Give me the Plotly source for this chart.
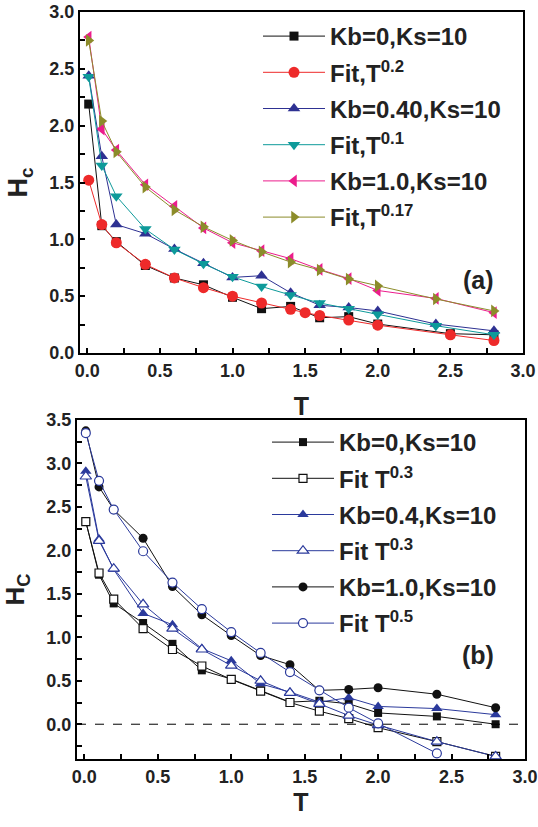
import plotly.graph_objects as go

# ---- panel (a): coercivity vs temperature, Ks = 10 ----
T_a = [0.01, 0.1, 0.2, 0.4, 0.6, 0.8, 1.0, 1.2, 1.4, 1.6, 1.8, 2.0, 2.4, 2.8]
T_a_kb0 = [0.01, 0.1, 0.2, 0.4, 0.6, 0.8, 1.0, 1.2, 1.4, 1.6, 1.8, 2.0, 2.5, 2.8]
T_a_fit02 = [0.01, 0.1, 0.2, 0.4, 0.6, 0.8, 1.0, 1.2, 1.4, 1.5, 1.6, 1.8, 2.0, 2.5, 2.8]

hc_a_kb0 = [2.19, 1.12, 0.98, 0.77, 0.66, 0.60, 0.49, 0.39, 0.41, 0.31, 0.32, 0.255, 0.17, 0.16]
hc_a_fit02 = [1.52, 1.13, 0.97, 0.78, 0.66, 0.575, 0.50, 0.44, 0.385, 0.355, 0.33, 0.29, 0.245, 0.16, 0.11]
hc_a_kb04 = [2.44, 1.73, 1.13, 1.05, 0.915, 0.79, 0.665, 0.68, 0.53, 0.42, 0.40, 0.37, 0.255, 0.195]
hc_a_fit01 = [2.43, 1.65, 1.38, 1.09, 0.91, 0.785, 0.67, 0.585, 0.51, 0.44, 0.39, 0.34, 0.24, 0.16]
hc_a_kb10 = [2.78, 1.97, 1.785, 1.48, 1.29, 1.10, 0.97, 0.90, 0.83, 0.735, 0.655, 0.55, 0.48, 0.355]
hc_a_fit017 = [2.75, 2.04, 1.77, 1.46, 1.26, 1.11, 0.99, 0.89, 0.80, 0.73, 0.65, 0.59, 0.475, 0.37]

# ---- panel (b) ----
T_b = [0.01, 0.1, 0.2, 0.4, 0.6, 0.8, 1.0, 1.2, 1.4, 1.6, 1.8, 2.0, 2.4, 2.8]
T_b_fit05 = [0.01, 0.1, 0.2, 0.4, 0.6, 0.8, 1.0, 1.2, 1.4, 1.6, 1.8, 2.0, 2.4]

hc_b_kb0 = [2.33, 1.72, 1.39, 1.165, 0.925, 0.62, 0.52, 0.39, 0.255, 0.27, 0.235, 0.13, 0.09, 0.0]
hc_b_fit03a = [2.33, 1.74, 1.44, 1.10, 0.86, 0.67, 0.515, 0.38, 0.25, 0.15, 0.065, -0.04, -0.2, -0.37]
hc_b_kb04 = [2.91, 2.13, 1.78, 1.275, 1.145, 0.87, 0.73, 0.465, 0.37, 0.255, 0.305, 0.205, 0.18, 0.11]
hc_b_fit03b = [2.85, 2.11, 1.79, 1.38, 1.10, 0.86, 0.675, 0.50, 0.36, 0.235, 0.10, -0.01, -0.2, -0.37]
hc_b_kb10 = [3.375, 2.73, 2.47, 2.14, 1.585, 1.26, 1.02, 0.79, 0.685, 0.39, 0.40, 0.42, 0.345, 0.19]
hc_b_fit05 = [3.35, 2.80, 2.47, 1.99, 1.63, 1.325, 1.06, 0.82, 0.60, 0.39, 0.19, 0.01, -0.335]

FONT = "Liberation Sans, Arial, sans-serif"
TEXT = "#222222"
W, H = 538, 827
ML, MR, MT, MB = 0, 8, 4, 4
PW, PH = W - ML - MR, H - MT - MB


def px(x):
    """pixel column -> paper fraction"""
    return (x - ML) / PW


def py(y):
    """pixel row (from top) -> paper fraction"""
    return 1 - (y - MT) / PH


fig = go.Figure()


def add(x, y, name, color, symbol, size, legend, axes, fill=None):
    xa, ya = axes
    fig.add_trace(go.Scatter(
        x=x, y=y, name=name, mode="lines+markers",
        line=dict(color=color, width=1),
        marker=dict(symbol=symbol, size=size,
                    color=fill if fill else color,
                    line=dict(color=color, width=1.2 if fill else 0)),
        xaxis=xa, yaxis=ya, legend=legend, legendgroup=legend + name + symbol + str(fill),
    ))


A = ("x", "y")
B = ("x2", "y2")

add(T_a_kb0, hc_a_kb0, "Kb=0,Ks=10", "#111111", "square", 9, "legend", A)
add(T_a_fit02, hc_a_fit02, "Fit,T<sup>0.2</sup>", "#EE2A2A", "circle", 11, "legend", A)
add(T_a, hc_a_kb04, "Kb=0.40,Ks=10", "#2E3192", "triangle-up", 11, "legend", A)
add(T_a, hc_a_fit01, "Fit,T<sup>0.1</sup>", "#0E9A9A", "triangle-down", 11, "legend", A)
add(T_a, hc_a_kb10, "Kb=1.0,Ks=10", "#EC1C8C", "triangle-left", 11, "legend", A)
add(T_a, hc_a_fit017, "Fit,T<sup>0.17</sup>", "#8C8C2A", "triangle-right", 11, "legend", A)

add(T_b, hc_b_kb0, "Kb=0,Ks=10", "#111111", "square", 8, "legend2", B)
add(T_b, hc_b_fit03a, "Fit T<sup>0.3</sup>", "#111111", "square", 8, "legend2", B, fill="white")
add(T_b, hc_b_kb04, "Kb=0.4,Ks=10", "#2B3A9C", "triangle-up", 10, "legend2", B)
add(T_b, hc_b_fit03b, "Fit T<sup>0.3</sup>", "#2B3A9C", "triangle-up", 10, "legend2", B, fill="white")
add(T_b, hc_b_kb10, "Kb=1.0,Ks=10", "#111111", "circle", 9, "legend2", B)
add(T_b_fit05, hc_b_fit05, "Fit T<sup>0.5</sup>", "#2B3A9C", "circle", 9, "legend2", B, fill="white")

minor = dict(dtick=0.25, ticks="inside", ticklen=5, tickwidth=1.5, tickcolor="black", showgrid=False)
axis_common = dict(
    showline=True, linecolor="black", linewidth=2, mirror=True,
    ticks="inside", ticklen=5, tickwidth=1.5, tickcolor="black",
    showgrid=False, zeroline=False, automargin=False,
    dtick=0.5, tickformat=".1f", minor=minor,
    tickfont=dict(size=18, family=FONT, color=TEXT, weight="bold"),
)
legend_common = dict(
    xanchor="left", yanchor="top", bgcolor="rgba(0,0,0,0)", borderwidth=0,
    itemwidth=62, tracegroupgap=2, itemsizing="trace",
    font=dict(size=24, family=FONT, color=TEXT, weight="bold"),
)

fig.update_layout(
    width=W, height=H,
    margin=dict(l=ML, r=MR, t=MT, b=MB, autoexpand=False),
    paper_bgcolor="white", plot_bgcolor="white",
    font=dict(family=FONT, color=TEXT, weight="bold"),
    xaxis=dict(domain=[px(80), px(523)], range=[-0.05, 3.0], anchor="y",
               title=dict(text="T", font=dict(size=25, family=FONT, weight="bold"), standoff=18),
               **axis_common),
    yaxis=dict(domain=[py(353), py(12)], range=[0, 3.0], anchor="x",
               title=dict(text="H<sub>c</sub>", font=dict(size=27, family=FONT, weight="bold"), standoff=14),
               **axis_common),
    xaxis2=dict(domain=[px(77), px(525)], range=[-0.05, 3.0], anchor="y2",
                title=dict(text="T", font=dict(size=25, family=FONT, weight="bold"), standoff=8),
                **axis_common),
    yaxis2=dict(domain=[py(759), py(420)], range=[-0.4, 3.5], anchor="x2",
                title=dict(text="H<sub>C</sub>", font=dict(size=26, family=FONT, weight="bold"), standoff=14),
                **axis_common),
    legend=dict(x=px(258), y=py(14), **legend_common),
    legend2=dict(x=px(267), y=py(420), **legend_common),
    showlegend=True,
)

fig.add_shape(type="line", xref="x2 domain", yref="y2", x0=0, x1=1, y0=0, y1=0,
              line=dict(color="black", width=1, dash="dash"))

fig.add_annotation(text="(a)", xref="paper", yref="paper", x=px(496), y=py(280),
                   showarrow=False, font=dict(size=25, family=FONT, color=TEXT, weight="bold"))
fig.add_annotation(text="(b)", xref="paper", yref="paper", x=px(496), y=py(671),
                   showarrow=False, font=dict(size=25, family=FONT, color=TEXT, weight="bold"))

fig.write_html("out.html")
